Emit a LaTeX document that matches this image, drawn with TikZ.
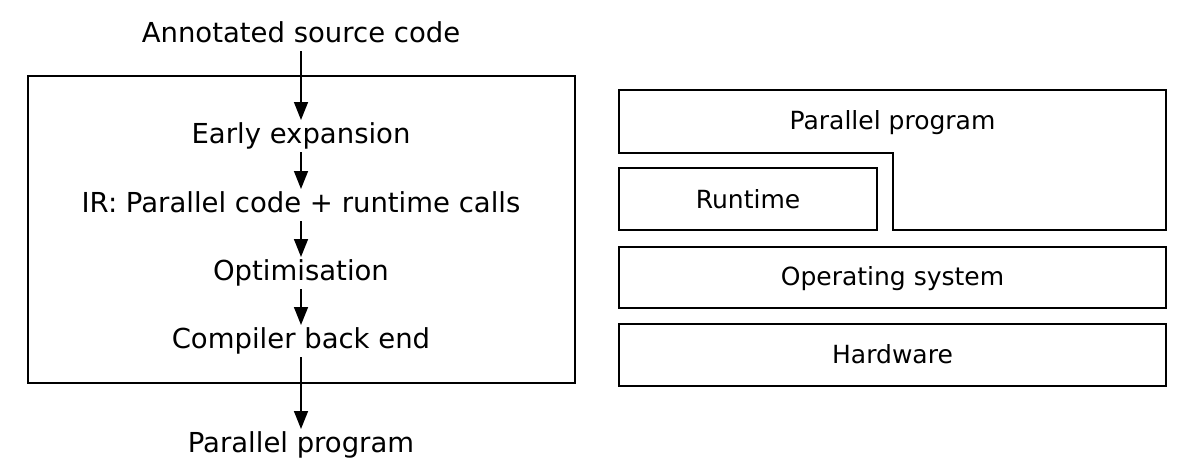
\documentclass[tikz,border=0pt]{standalone}
\usepackage{fontspec}
\setmainfont{DejaVu Sans}
\usetikzlibrary{arrows.meta}
\begin{document}
\begin{tikzpicture}[x=1pt,y=-1pt,
  lbl/.style={anchor=base,font=\fontsize{27.5}{30}\selectfont,inner xsep=0pt,inner ysep=3pt,outer sep=0pt,text height=20pt,text depth=6pt},
  rlbl/.style={anchor=base,font=\fontsize{25}{28}\selectfont,inner sep=0pt},
  flow/.style={line width=1.5pt,-{Triangle[length=18pt,width=14pt]}},
  frame/.style={line width=1.5pt}]
\useasboundingbox (0,0) rectangle (1192,474);
% left pipeline
\draw[frame] (28,76) rectangle (575,383);
\node[lbl] (src) at (301,42) {Annotated source code};
\node[lbl] (early) at (301,143) {Early expansion};
\node[lbl] (ir) at (301,212) {IR: Parallel code + runtime calls};
\node[lbl] (opt) at (301,280) {Optimisation};
\node[lbl] (back) at (301,348) {Compiler back end};
\node[lbl] (out) at (301,452) {Parallel program};
\draw[flow] (src.south) -- (early.north);
\draw[flow] (early.south) -- (ir.north);
\draw[flow] (ir.south) -- (opt.north);
\draw[flow] (opt.south) -- (back.north);
\draw[flow] (back.south) -- (out.north);
% right stack
\draw[frame] (619,90) -- (1166,90) -- (1166,230) -- (893,230) -- (893,153) -- (619,153) -- cycle;
\draw[frame] (619,168) rectangle (877,230);
\draw[frame] (619,247) rectangle (1166,308);
\draw[frame] (619,324) rectangle (1166,386);
\node[rlbl] (pp) at (892.5,129) {Parallel program};
\node[rlbl] (rt) at (748,208) {Runtime};
\node[rlbl] (os) at (892.5,285) {Operating system};
\node[rlbl] (hw) at (892.5,363) {Hardware};
\end{tikzpicture}
\end{document}
